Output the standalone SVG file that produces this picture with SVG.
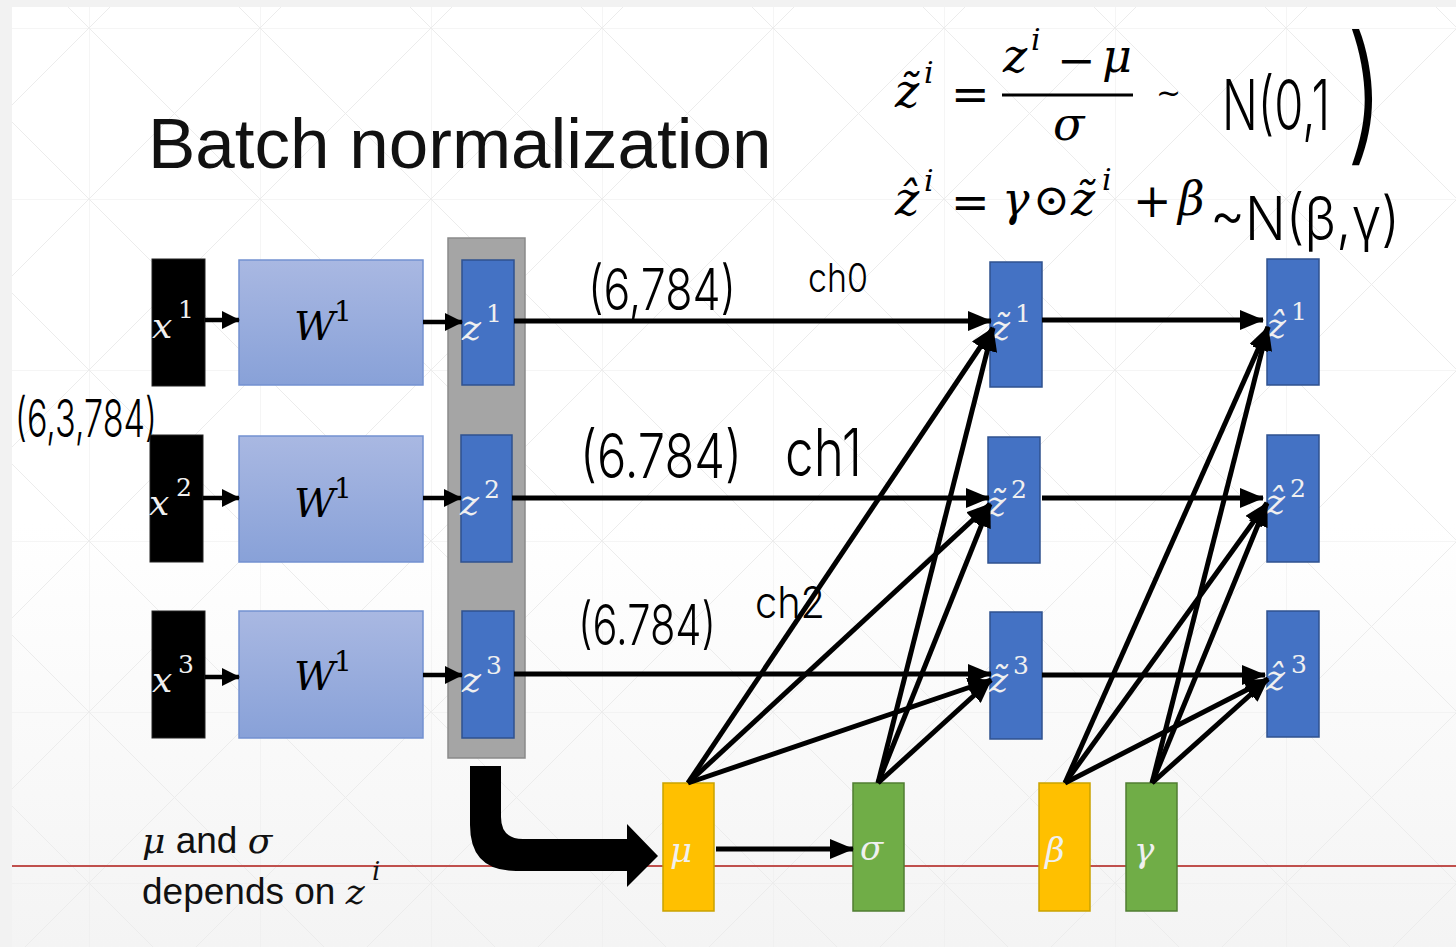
<svg xmlns="http://www.w3.org/2000/svg" width="1456" height="947" viewBox="0 0 1456 947">
<style>
.m{font-family:"DejaVu Serif","Liberation Serif",serif;font-style:italic;}
.u{font-family:"DejaVu Serif","Liberation Serif",serif;font-style:normal;}
.wt{fill:#f0f0f0;}
.bk{fill:#000;}
.lab{font-size:36px;}
.sup{font-size:25px;}
.hand{font-family:Inter,"Liberation Sans",sans-serif;font-weight:300;fill:#000;}
.zb{fill:#4472c4;stroke:#2f528f;stroke-width:1.5;}
.wb{fill:url(#wg);stroke:#7391d1;stroke-width:1.5;}
.xb{fill:#000;stroke:#222;stroke-width:1;}
.yb{fill:#ffc000;stroke:#c9a200;stroke-width:1.5;}
.gb{fill:#70ad47;stroke:#507e32;stroke-width:1.5;}
.c{stroke:#000;stroke-width:5;fill:none;marker-end:url(#ah);}
.cs{stroke:#000;stroke-width:4.5;fill:none;marker-end:url(#ahs);}
</style>
<defs>
<linearGradient id="wg" x1="0" y1="0" x2="0" y2="1"><stop offset="0" stop-color="#a9b8e2"/><stop offset="1" stop-color="#88a1d8"/></linearGradient>
<linearGradient id="bg" x1="0" y1="0" x2="0" y2="1"><stop offset="0" stop-color="#ffffff"/><stop offset="0.55" stop-color="#ffffff"/><stop offset="1" stop-color="#f4f4f4"/></linearGradient>
<pattern id="grid" patternUnits="userSpaceOnUse" x="89" y="28" width="171" height="171">
<path d="M0,0H171M0,0V171M0,0L171,171M171,0L0,171" stroke="#ececec" stroke-width="1" fill="none"/>
</pattern>
<marker id="ah" markerUnits="userSpaceOnUse" markerWidth="24" markerHeight="20" refX="23" refY="10" orient="auto"><path d="M0,0L24,10L0,20z" fill="#000"/></marker>
<marker id="ahs" markerUnits="userSpaceOnUse" markerWidth="18" markerHeight="18" refX="17" refY="9" orient="auto"><path d="M0,0L18,9L0,18z" fill="#000"/></marker>
</defs>
<rect width="1456" height="947" fill="#f2f2f2"/>
<rect x="12" y="7" width="1444" height="940" fill="url(#bg)"/>
<rect x="12" y="7" width="1444" height="940" fill="url(#grid)"/>
<line x1="12" y1="866" x2="1456" y2="866" stroke="#c0504d" stroke-width="2"/>

<text x="148" y="168" font-family="Liberation Sans, Arial, sans-serif" font-size="71" fill="#111">Batch normalization</text>

<g id="formula">
<text class="m" x="895" y="107" font-size="46">z̃</text>
<text class="m" x="924" y="83" font-size="30">i</text>
<text class="u" x="951" y="110" font-size="46">=</text>
<text class="m" x="1003" y="72" font-size="46">z</text>
<text class="m" x="1031" y="50" font-size="30">i</text>
<text class="u" x="1057" y="76" font-size="46">−</text>
<text class="m" x="1102" y="72" font-size="46">μ</text>
<line x1="1002" y1="95" x2="1133" y2="95" stroke="#000" stroke-width="3"/>
<text class="m" x="1053" y="140" font-size="46">σ</text>
<text class="u" x="1156" y="103" font-size="30">~</text>
<text class="m" x="895" y="215" font-size="46">ẑ</text>
<text class="m" x="924" y="191" font-size="30">i</text>
<text class="u" x="951" y="218" font-size="46">=</text>
<text class="m" x="1002" y="215" font-size="46">γ</text>
<text class="u" x="1033" y="215" font-size="44" font-family="DejaVu Sans, sans-serif">⊙</text>
<text class="m" x="1071" y="215" font-size="46">z̃</text>
<text class="m" x="1102" y="190" font-size="30">i</text>
<text class="u" x="1133" y="217" font-size="46">+</text>
<text class="m" x="1178" y="215" font-size="46">β</text>
</g>

<g id="annotations">
<text class="hand" x="1222" y="130" font-size="70" textLength="108" lengthAdjust="spacingAndGlyphs">N(0,1</text>
<text class="hand" x="1346" y="145" font-size="150" textLength="38" lengthAdjust="spacingAndGlyphs">)</text>
<text class="hand" x="1210" y="240" font-size="60" textLength="190" lengthAdjust="spacingAndGlyphs">~N(β,γ)</text>
<text class="hand" x="15" y="437" font-size="52" textLength="142" lengthAdjust="spacingAndGlyphs">(6,3,784)</text>
<text class="hand" x="588" y="310" font-size="58" textLength="148" lengthAdjust="spacingAndGlyphs">(6,784)</text>
<text class="hand" x="808" y="292" font-size="40" textLength="60" lengthAdjust="spacingAndGlyphs">ch0</text>
<text class="hand" x="580" y="478" font-size="62" textLength="162" lengthAdjust="spacingAndGlyphs">(6.784)</text>
<text class="hand" x="785" y="476" font-size="66" textLength="77" lengthAdjust="spacingAndGlyphs">ch1</text>
<text class="hand" x="578" y="645" font-size="56" textLength="138" lengthAdjust="spacingAndGlyphs">(6.784)</text>
<text class="hand" x="755" y="618" font-size="44" textLength="70" lengthAdjust="spacingAndGlyphs">ch2</text>
</g>

<g id="note">
<text x="142" y="853" font-size="37" font-family="Liberation Sans, Arial, sans-serif" fill="#111"><tspan class="m" font-size="36">μ</tspan> and <tspan class="m" font-size="36">σ</tspan></text>
<text x="142" y="904" font-size="37" font-family="Liberation Sans, Arial, sans-serif" fill="#111">depends on <tspan class="m" font-size="36">z</tspan></text>
<text class="m" x="372" y="880" font-size="26" fill="#111">i</text>
</g>

<g id="batch-column"><rect x="448" y="238" width="77" height="520" fill="#a5a5a5" stroke="#8a8a8a" stroke-width="1.5"/></g>

<g id="x1"><rect class="xb" x="152" y="259" width="53" height="127"/><text class="m wt lab" x="152" y="338">x</text><text class="u wt sup" x="178" y="318">1</text></g>
<g id="x2"><rect class="xb" x="150" y="435" width="53" height="127"/><text class="m wt lab" x="149" y="515">x</text><text class="u wt sup" x="176" y="496">2</text></g>
<g id="x3"><rect class="xb" x="152" y="611" width="53" height="127"/><text class="m wt lab" x="152" y="692">x</text><text class="u wt sup" x="178" y="673">3</text></g>

<g id="W1a"><rect class="wb" x="239" y="260" width="184" height="125"/><text class="m bk" x="294" y="340" font-size="40">W</text><text class="u bk" x="334" y="321" font-size="28">1</text></g>
<g id="W1b"><rect class="wb" x="239" y="436" width="184" height="126"/><text class="m bk" x="294" y="517" font-size="40">W</text><text class="u bk" x="334" y="498" font-size="28">1</text></g>
<g id="W1c"><rect class="wb" x="239" y="611" width="184" height="127"/><text class="m bk" x="294" y="690" font-size="40">W</text><text class="u bk" x="334" y="671" font-size="28">1</text></g>

<g id="z1"><rect class="zb" x="462" y="260" width="52" height="125"/><text class="m wt lab" x="462" y="340">z</text><text class="u wt sup" x="486" y="322">1</text></g>
<g id="z2"><rect class="zb" x="461" y="435" width="51" height="127"/><text class="m wt lab" x="460" y="515">z</text><text class="u wt sup" x="484" y="498">2</text></g>
<g id="z3"><rect class="zb" x="462" y="611" width="52" height="127"/><text class="m wt lab" x="462" y="692">z</text><text class="u wt sup" x="486" y="674">3</text></g>

<g id="zt1"><rect class="zb" x="990" y="262" width="52" height="125"/><text class="m wt lab" x="991" y="340">z̃</text><text class="u wt sup" x="1015" y="322">1</text></g>
<g id="zt2"><rect class="zb" x="988" y="437" width="52" height="126"/><text class="m wt lab" x="987" y="516">z̃</text><text class="u wt sup" x="1011" y="498">2</text></g>
<g id="zt3"><rect class="zb" x="990" y="612" width="52" height="127"/><text class="m wt lab" x="989" y="692">z̃</text><text class="u wt sup" x="1013" y="674">3</text></g>

<g id="zh1"><rect class="zb" x="1267" y="259" width="52" height="126"/><text class="m wt lab" x="1267" y="338">ẑ</text><text class="u wt sup" x="1291" y="320">1</text></g>
<g id="zh2"><rect class="zb" x="1267" y="435" width="52" height="127"/><text class="m wt lab" x="1266" y="514">ẑ</text><text class="u wt sup" x="1290" y="497">2</text></g>
<g id="zh3"><rect class="zb" x="1267" y="611" width="52" height="126"/><text class="m wt lab" x="1266" y="690">ẑ</text><text class="u wt sup" x="1291" y="673">3</text></g>

<g id="mu"><rect class="yb" x="663" y="783" width="51" height="128"/><text class="m wt" x="670" y="862" font-size="34">μ</text></g>
<g id="sigma"><rect class="gb" x="853" y="783" width="51" height="128"/><text class="m wt" x="860" y="860" font-size="34">σ</text></g>
<g id="beta"><rect class="yb" x="1039" y="783" width="51" height="128"/><text class="m wt" x="1045" y="862" font-size="34">β</text></g>
<g id="gamma"><rect class="gb" x="1126" y="783" width="51" height="128"/><text class="m wt" x="1134" y="862" font-size="34">γ</text></g>

<g id="connectors">
<line class="cs" x1="205" y1="320" x2="239" y2="320"/>
<line class="cs" x1="203" y1="498" x2="239" y2="498"/>
<line class="cs" x1="205" y1="677" x2="239" y2="677"/>
<line class="cs" x1="423" y1="322" x2="462" y2="322"/>
<line class="cs" x1="423" y1="498" x2="461" y2="498"/>
<line class="cs" x1="423" y1="675" x2="462" y2="675"/>
<line class="c" x1="514" y1="321" x2="991" y2="321"/>
<line class="c" x1="512" y1="498" x2="989" y2="498"/>
<line class="c" x1="514" y1="674" x2="991" y2="674"/>
<line class="c" x1="1042" y1="320" x2="1263" y2="320"/>
<line class="c" x1="1042" y1="498" x2="1263" y2="498"/>
<line class="c" x1="1042" y1="675" x2="1265" y2="675"/>
<line class="c" x1="716" y1="849" x2="853" y2="849"/>
<line class="c" x1="688" y1="783" x2="993" y2="328"/>
<line class="c" x1="688" y1="783" x2="990" y2="504"/>
<line class="c" x1="688" y1="783" x2="991" y2="680"/>
<line class="c" x1="878" y1="783" x2="993" y2="328"/>
<line class="c" x1="878" y1="783" x2="990" y2="504"/>
<line class="c" x1="878" y1="783" x2="991" y2="680"/>
<line class="c" x1="1065" y1="783" x2="1268" y2="327"/>
<line class="c" x1="1065" y1="783" x2="1267" y2="503"/>
<line class="c" x1="1065" y1="783" x2="1268" y2="679"/>
<line class="c" x1="1152" y1="783" x2="1268" y2="327"/>
<line class="c" x1="1152" y1="783" x2="1267" y2="503"/>
<line class="c" x1="1152" y1="783" x2="1268" y2="679"/>
<path d="M470,766L501,766L501,817Q501,839 523,839L627,839L627,824L658,856L627,887L627,871L516,871Q470,871 470,825Z" fill="#000"/>
</g>
</svg>
